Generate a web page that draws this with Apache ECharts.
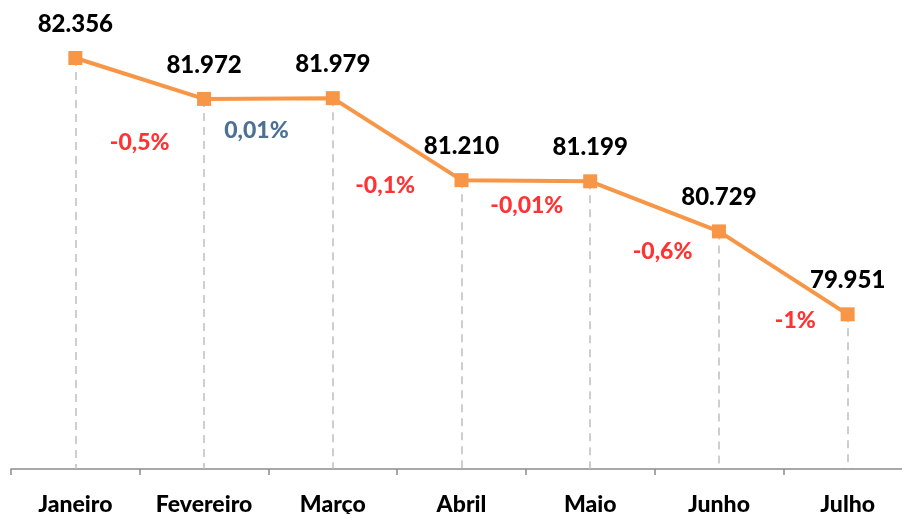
<!DOCTYPE html>
<html>
<head>
<meta charset="utf-8">
<script src="https://cdn.jsdelivr.net/npm/echarts@6/dist/echarts.min.js"></script>
<style>
  html, body { margin: 0; padding: 0; background: #fff; }
  #chart { width: 902px; height: 514px; }
</style>
</head>
<body>
<div id="chart"></div>
<script>
// dados
var months = ['Janeiro', 'Fevereiro', 'Março', 'Abril', 'Maio', 'Junho', 'Julho'];
var values = [82.356, 81.972, 81.979, 81.210, 81.199, 80.729, 79.951];
var changes = ['-0,5%', '0,01%', '-0,1%', '-0,01%', '-0,6%', '-1%'];

var yMin = 78.5;
var orange = '#F79646';

// deslocamento (px) das etiquetas de variação em relação ao meio do segmento
var pctOffset = [[0, 64], [-12, 32], [-12, 46], [1, 25], [8, 45], [12, 48]];

var dropLines = months.map(function (m, i) {
    return [{ coord: [m, values[i]] }, { coord: [m, yMin] }];
});

var pctData = changes.map(function (txt, i) {
    return {
        value: [i + 0.5, (values[i] + values[i + 1]) / 2],
        label: {
            formatter: txt,
            offset: pctOffset[i],
            color: txt.charAt(0) === '-' ? '#FF0000' : '#1F4E79'
        }
    };
});

var myChart = echarts.init(document.getElementById('chart'));
var option = {
    animation: false,
    grid: { left: 11, right: -10, top: 0, bottom: 45, containLabel: false, outerBoundsMode: 'none' },
    xAxis: [{
        type: 'category',
        data: months,
        boundaryGap: true,
        axisLine: { lineStyle: { color: '#8C8C8C', width: 1.5 } },
        axisTick: { show: true, length: 6, lineStyle: { color: '#8C8C8C', width: 1.5 } },
        axisLabel: {
            margin: 24,
            fontFamily: 'Lato',
            fontWeight: 900,
            fontSize: 23,
            color: '#000'
        },
        splitLine: { show: false }
    }, {
        type: 'value',
        min: -0.5,
        max: 6.5,
        show: false
    }],
    yAxis: {
        type: 'value',
        min: yMin,
        max: 82.9,
        show: false,
        splitLine: { show: false }
    },
    series: [{
        type: 'line',
        data: values,
        xAxisIndex: 0,
        symbol: 'rect',
        symbolSize: 14,
        lineStyle: { color: orange, width: 4 },
        itemStyle: { color: orange },
        label: {
            show: true,
            position: 'top',
            distance: 15,
            fontFamily: 'Lato',
            fontWeight: 900,
            fontSize: 24,
            color: '#000',
            formatter: function (p) { return p.value.toFixed(3); }
        },
        markLine: {
            silent: true,
            symbol: 'none',
            label: { show: false },
            lineStyle: { color: '#BFBFBF', width: 1.5, type: [8, 6] },
            data: dropLines,
            z: 1
        },
        z: 3
    }, {
        type: 'scatter',
        xAxisIndex: 1,
        data: pctData,
        symbolSize: 0,
        label: {
            show: true,
            position: 'inside',
            fontFamily: 'Lato',
            fontWeight: 900,
            fontSize: 23
        },
        z: 4
    }]
};
myChart.setOption(option);
window.addEventListener('resize', function () { myChart.resize(); });
</script>
</body>
</html>
